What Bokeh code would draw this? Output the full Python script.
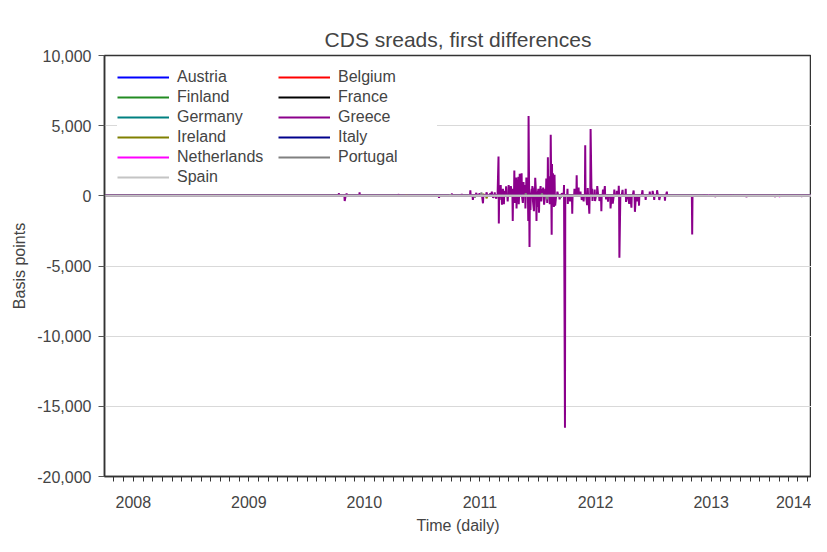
import pandas as pd
from bokeh.plotting import figure
from bokeh.models import (Range1d, FixedTicker, NumeralTickFormatter, LinearAxis,
                          DatetimeTickFormatter, Legend, LegendItem, Title)
from bokeh.embed import file_html
from bokeh.resources import INLINE

FONT = "Liberation Sans"

# ---------------- data ----------------
countries = ["Austria", "Belgium", "Finland", "France", "Germany", "Greece",
             "Ireland", "Italy", "Netherlands", "Portugal", "Spain"]
colors = ["#0000ff", "#ff0000", "#228b22", "#000000", "#008080", "#8b008b",
          "#808000", "#00008b", "#ff00ff", "#808080", "#c4c4c4"]

period_start = "2008-04-01"
period_end = "2014-05-14"

# daily first differences (basis points); days not listed are ~0
greece_dates = [
    "2010-04-12", "2010-04-30", "2010-05-06", "2010-06-16", "2010-10-18",
    "2011-02-22", "2011-04-04", "2011-05-05", "2011-06-01", "2011-06-09",
    "2011-06-20", "2011-06-30", "2011-07-11", "2011-07-22", "2011-08-03",
    "2011-08-08", "2011-08-12", "2011-08-17", "2011-08-22", "2011-08-29",
    "2011-08-30", "2011-09-01", "2011-09-05", "2011-09-07", "2011-09-09",
    "2011-09-12", "2011-09-15", "2011-09-19", "2011-09-22", "2011-09-27",
    "2011-09-30", "2011-10-04", "2011-10-07", "2011-10-11", "2011-10-13",
    "2011-10-18", "2011-10-20", "2011-10-24", "2011-10-25", "2011-10-27",
    "2011-10-31", "2011-11-01", "2011-11-04", "2011-11-08", "2011-11-10",
    "2011-11-14", "2011-11-16", "2011-11-18", "2011-11-21", "2011-11-22",
    "2011-11-25", "2011-11-29", "2011-12-01", "2011-12-02", "2011-12-05",
    "2011-12-08", "2011-12-12", "2011-12-14", "2011-12-16", "2011-12-19",
    "2011-12-21", "2011-12-23", "2011-12-27", "2011-12-29", "2012-01-02",
    "2012-01-04", "2012-01-09", "2012-01-11", "2012-01-13", "2012-01-17",
    "2012-01-20", "2012-01-24", "2012-01-27", "2012-01-30", "2012-02-01",
    "2012-02-03", "2012-02-06", "2012-02-07", "2012-02-10", "2012-02-13",
    "2012-02-14", "2012-02-17", "2012-02-20", "2012-02-22", "2012-02-24",
    "2012-03-02", "2012-03-09", "2012-03-16", "2012-03-23", "2012-03-26",
    "2012-04-03", "2012-04-04", "2012-04-11", "2012-04-18", "2012-04-25",
    "2012-05-02", "2012-05-08", "2012-05-14", "2012-05-18", "2012-05-24",
    "2012-05-29", "2012-06-04", "2012-06-06", "2012-06-11", "2012-06-15",
    "2012-06-20", "2012-06-21", "2012-06-28", "2012-06-29", "2012-07-06",
    "2012-07-13", "2012-07-19", "2012-07-24", "2012-07-30", "2012-08-03",
    "2012-08-09", "2012-08-17", "2012-08-24", "2012-08-29", "2012-09-06",
    "2012-09-12", "2012-09-14", "2012-09-24", "2012-10-04", "2012-10-05",
    "2012-10-15", "2012-10-22", "2012-10-29", "2012-11-02", "2012-11-09",
    "2012-11-15", "2012-11-26", "2012-12-06", "2012-12-19", "2012-12-28",
    "2013-01-02", "2013-01-11", "2013-01-18", "2013-02-05", "2013-02-11",
    "2013-05-02", "2013-06-10", "2013-07-15", "2013-09-02", "2013-10-21",
    "2013-12-10", "2014-01-20", "2014-03-05", "2014-04-14",
]
greece_values = [
    170, -370, 180, 250, 120,
    -150, 150, 140, 400, -300,
    220, 200, -530, 250, 200,
    300, -150, 250, -200, 2800,
    -1970, 400, 770, -300, -630,
    500, -600, 350, 680, -400,
    770, 450, 700, 500, -1790,
    1810, -500, 1300, -900, 800,
    1350, -600, 1580, 900, 1600,
    -500, 990, 600, 770, -900,
    1300, 800, -1790, 5690, -3640,
    -1000, 500, 700, -400, -1090,
    600, 1280, -1790, -800, 500,
    -1200, 700, -400, 480, 600,
    -630, 500, 1240, -500, 2740,
    900, 1400, -600, 4360, -2780,
    2270, 1600, -800, 1500, -700,
    300, -250, 200, 770, -16520,
    500, -580, -400, -1280, 500,
    1460, 600, 300, -300, -400,
    3600, -670, 550, -1280, 4760,
    500, -370, 450, -370, 700,
    -370, -1100, 450, 700, -250,
    -420, -900, -560, 450, 350,
    720, -4410, 430, 500, -430,
    -570, -840, 380, -1140, -400,
    -700, 400, -300, 300, 350,
    -300, 400, -300, -350, 300,
    -2760, 80, -60, 70, -80,
    60, -70, 60, -50,
]

austria_dates = ["2008-10-27", "2009-02-17", "2011-11-15"]
austria_values = [20, 25, 20]
belgium_dates = ["2008-10-27", "2011-11-25", "2011-12-05"]
belgium_values = [15, 40, -35]
finland_dates = ["2009-03-02", "2011-11-16"]
finland_values = [8, 10]
france_dates = ["2008-10-27", "2011-11-15", "2012-01-16"]
france_values = [15, 25, -20]
germany_dates = ["2008-10-27", "2011-11-23"]
germany_values = [10, 12]
ireland_dates = ["2009-03-09", "2010-11-11", "2011-07-12", "2011-07-22"]
ireland_values = [60, 120, 150, -180]
italy_dates = ["2011-08-05", "2011-11-09", "2011-12-01"]
italy_values = [50, 80, -60]
netherlands_dates = ["2013-06-24", "2013-09-10", "2013-12-05", "2014-02-03"]
netherlands_values = [60, -50, 50, -60]
portugal_dates = ["2011-03-30", "2011-06-15", "2011-07-06", "2011-11-23",
                  "2012-01-13", "2012-01-30", "2012-03-13"]
portugal_values = [120, -150, 250, 200, 180, -250, -150]
spain_dates = ["2011-11-17", "2012-07-24"]
spain_values = [50, 60]

series_events = {
    "Austria": (austria_dates, austria_values),
    "Belgium": (belgium_dates, belgium_values),
    "Finland": (finland_dates, finland_values),
    "France": (france_dates, france_values),
    "Germany": (germany_dates, germany_values),
    "Greece": (greece_dates, greece_values),
    "Ireland": (ireland_dates, ireland_values),
    "Italy": (italy_dates, italy_values),
    "Netherlands": (netherlands_dates, netherlands_values),
    "Portugal": (portugal_dates, portugal_values),
    "Spain": (spain_dates, spain_values),
}

y_ticks = [-20000, -15000, -10000, -5000, 0, 5000, 10000]
year_labels = ["2008", "2009", "2010", "2011", "2012", "2013", "2014"]
year_label_pos = ["2008-07-01", "2009-07-01", "2010-07-01", "2011-07-01",
                  "2012-07-01", "2013-07-01", "2014-03-22"]


def to_ms(s):
    return pd.Timestamp(s).value / 1e6


# ---------------- figure ----------------
p = figure(width=811, height=536, x_axis_type="datetime",
           output_backend="svg", toolbar_location=None,
           x_range=Range1d(to_ms(period_start), to_ms(period_end)),
           y_range=Range1d(-20000, 10000),
           min_border_left=104, min_border_right=0,
           min_border_top=55, min_border_bottom=56)
p.title = None

p.outline_line_color = "#333333"
p.outline_line_width = 1.5
p.background_fill_color = "white"
p.border_fill_color = "white"

bdays = pd.bdate_range(period_start, period_end)
renderers = []
for name, col in zip(countries, colors):
    dates, vals = series_events[name]
    s = pd.Series(0.0, index=bdays)
    for d, v in zip(dates, vals):
        s[pd.Timestamp(d)] = v
    s = s.sort_index()
    r = p.line(s.index.values, s.values, line_color=col, line_width=2)
    renderers.append(r)

# y axis
ytk = FixedTicker(ticks=y_ticks)
ya = p.left[0]
ya.ticker = ytk
ya.formatter = NumeralTickFormatter(format="0,0")
ya.minor_tick_line_color = None
ya.major_tick_out = 6
ya.major_tick_in = 0
ya.major_tick_line_color = "#555555"
ya.axis_line_color = "#333333"
ya.axis_line_width = 1.5
ya.major_label_text_font = FONT
ya.major_label_text_font_size = "16px"
ya.major_label_standoff = 7
ya.axis_label = "Basis points"
ya.axis_label_text_font = FONT
ya.axis_label_text_font_size = "16px"
ya.axis_label_text_font_style = "normal"
ya.axis_label_standoff = 6

p.ygrid.ticker = ytk
p.ygrid.grid_line_color = "#d9d9d9"
p.ygrid.grid_line_width = 1
p.xgrid.visible = False

# x axis (below): year labels centred in each year, monthly minor ticks
month_ticks = pd.date_range("2008-05-01", "2014-05-01", freq="MS")
xa = p.below[0]
xa.ticker = FixedTicker(ticks=[to_ms(d) for d in year_label_pos],
                        minor_ticks=[to_ms(d) for d in month_ticks])
xa.formatter = DatetimeTickFormatter(days="%Y", months="%Y", years="%Y")
xa.major_tick_out = 7
xa.major_tick_in = 0
xa.major_tick_line_color = None
xa.minor_tick_out = 5
xa.minor_tick_in = 0
xa.minor_tick_line_color = "#333333"
xa.axis_line_color = "#333333"
xa.axis_line_width = 1.5
xa.major_label_text_font = FONT
xa.major_label_text_font_size = "16px"
xa.major_label_standoff = 12
xa.axis_label = "Time (daily)"
xa.axis_label_text_font = FONT
xa.axis_label_text_font_size = "16px"
xa.axis_label_text_font_style = "normal"
xa.axis_label_standoff = 6

# empty spacer band between plot frame and title (no ticks drawn, no labels)
spacer = LinearAxis(ticker=FixedTicker(ticks=[]), major_tick_out=20, major_tick_in=0,
                    major_tick_line_color="white", minor_tick_line_color=None,
                    minor_tick_out=0, axis_line_color=None, major_label_standoff=0)
p.add_layout(spacer, "above")

title = Title(text="CDS sreads, first differences", align="center",
              text_font=FONT, text_font_size="21px", text_font_style="normal",
              standoff=10)
p.add_layout(title, "above")

# legend
items = [LegendItem(label=c, renderers=[r]) for c, r in zip(countries, renderers)]
legend = Legend(items=items, location="top_left", orientation="horizontal", ncols=2,
                label_text_font=FONT, label_text_font_size="16px",
                glyph_width=52, glyph_height=16, label_height=16, label_standoff=8,
                label_width=99, spacing=2, padding=0, margin=13,
                border_line_color=None, background_fill_color="white",
                background_fill_alpha=1.0)
p.add_layout(legend)

open("out.html", "w").write(file_html(p, INLINE))
